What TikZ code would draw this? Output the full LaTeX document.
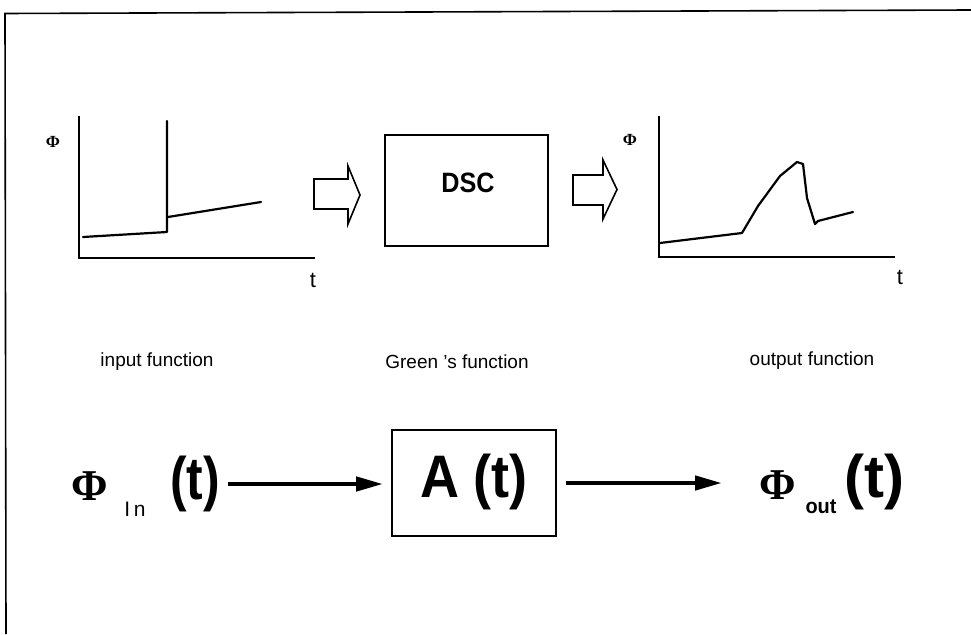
\documentclass[tikz,border=0pt]{standalone}
\usepackage{fontspec}
\usepackage{graphicx}
\setmainfont{Liberation Sans}
\newfontfamily\phifont{Liberation Serif}
\usetikzlibrary{arrows.meta}
\begin{document}
\begin{tikzpicture}[x=1pt,y=-1pt,
  frameline/.style={line width=1.6pt},
  axisline/.style={line width=2.2pt},
  curveline/.style={line width=2.2pt, line join=round, line cap=round},
  hollowarrow/.style={line width=1.6pt, line join=miter},
  boxline/.style={draw, line width=1.8pt, inner sep=0},
  lbl/.style={font=\fontsize{19}{19}\selectfont, inner sep=0},
  smalllbl/.style={font=\fontsize{22}{22}\selectfont, inner sep=0},
  phismall/.style={font=\phifont\bfseries\fontsize{17}{17}\selectfont, inner sep=0},
  bigtxt/.style={font=\bfseries\fontsize{60}{60}\selectfont, inner sep=0},
  phibig/.style={font=\phifont\bfseries\fontsize{44}{44}\selectfont, inner sep=0},
  subtxt/.style={font=\fontsize{21}{21}\selectfont, inner sep=0},
  flowarrow/.style={line width=4.5pt, -{Triangle[length=27pt,width=14pt]}}
]
\useasboundingbox (0,0) rectangle (971,634);
% frame
\draw[frameline] (971,10) -- (5,13.5) -- (6,634);

% ---- left chart (input function)
\draw[axisline] (79,116) -- (79,258) -- (315,258);
\node[phismall] (phiL) at (53,142) {Φ};
\node[smalllbl] (tL) at (313,280) {t};
\draw[curveline] (83,237) -- (167,232) -- (167,121);
\draw[curveline] (168,217) -- (261,202);

% hollow arrow 1
\draw[hollowarrow] (314,179) -- (348,179) -- (348,166) -- (360,195) -- (348,224) -- (348,209) -- (314,209) -- cycle;

% DSC box
\node[boxline, minimum width=163pt, minimum height=111pt] (dsc) at (466.5,190.5) {};
\node[font=\bfseries\fontsize{28}{28}\selectfont, inner sep=0] (dsct) at (468,183) {\scalebox{0.9}[1]{DSC}};

% hollow arrow 2
\draw[hollowarrow] (573,175) -- (603,175) -- (603,160) -- (617,189.5) -- (603,219) -- (603,205) -- (573,205) -- cycle;

% ---- right chart (output function)
\draw[axisline] (659,116) -- (659,257) -- (895,257);
\node[phismall] (phiR) at (630,140) {Φ};
\node[smalllbl] (tR) at (900,277) {t};
\draw[curveline] (660,243) -- (742,233) -- (758,206) -- (780,176) -- (797,162) -- (803,164)
  -- (807,198) -- (815,224) -- (818,221) -- (853,212);

% ---- captions
\node[lbl] (cin) at (157,362) {input function};
\node[lbl] (cgreen) at (457,362) {Green 's function};
\node[lbl] (cout) at (812,361) {output function};

% ---- bottom row
\node[phibig] (phiin) at (90,486) {Φ};
\node[subtxt] (inS) at (135,509) {I\,n};
\node[bigtxt] (tin) at (195,484) {\scalebox{0.83}[1]{(t)}};

\node[boxline, minimum width=164pt, minimum height=106pt] (abox) at (474,483) {};
\node[bigtxt] (atxt) at (474,482) {\scalebox{0.9}[1]{A (t)}};

\node[phibig] (phiout) at (778,485) {Φ};
\node[subtxt, font=\bfseries\fontsize{21}{21}\selectfont] (outS) at (821,507) {\scalebox{0.95}[1]{out}};
\node[bigtxt] (tout) at (874,482) {(t)};

\coordinate (a1s) at (228,484);
\coordinate (a2e) at (722,483);
\draw[flowarrow, shorten >=8pt] (a1s) -- (abox.west |- a1s);
\draw[flowarrow, shorten <=9pt] (abox.east |- a2e) -- (a2e);
\end{tikzpicture}
\end{document}
